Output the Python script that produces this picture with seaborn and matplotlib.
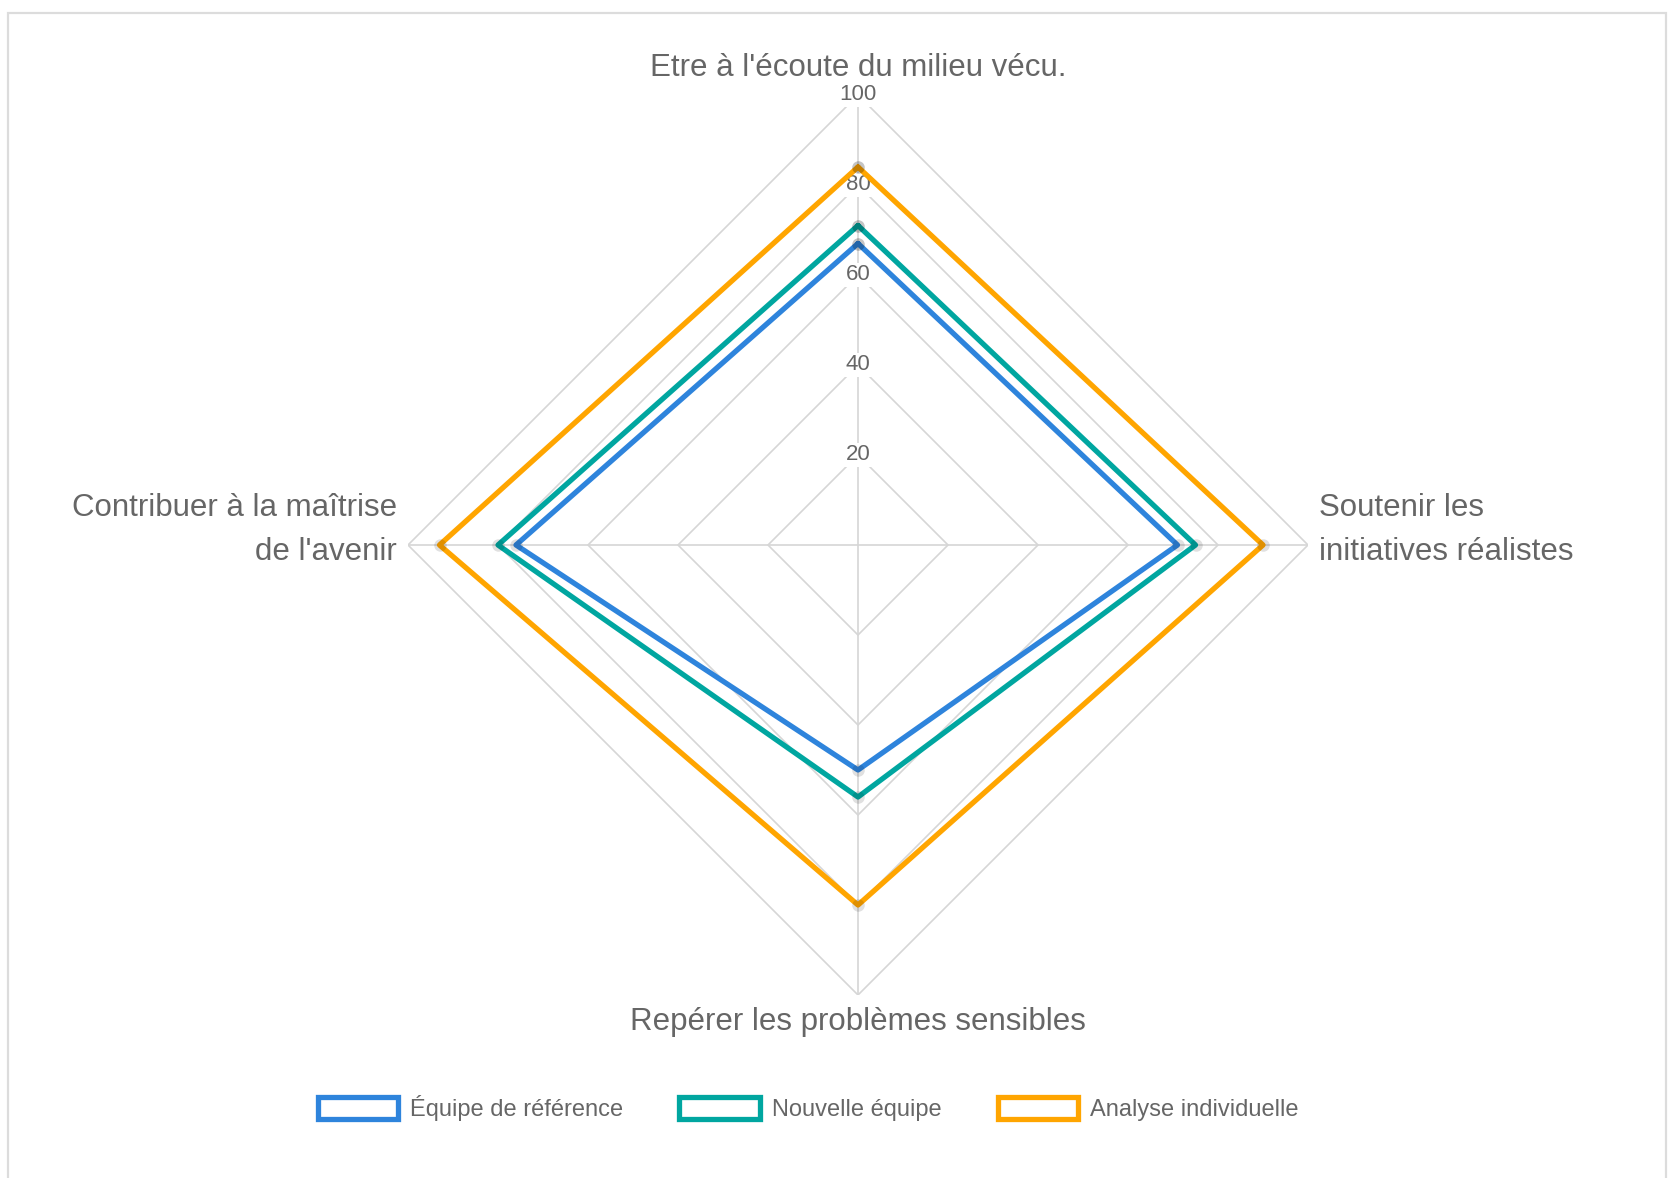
import numpy as np
import pandas as pd
import matplotlib
matplotlib.use("Agg")
import matplotlib.pyplot as plt
from matplotlib.patches import Patch, Rectangle
import seaborn as sns

# Axes of the radar, clockwise from the top
categories = [
    "Etre à l'écoute du milieu vécu.",
    "Soutenir les\ninitiatives réalistes",
    "Repérer les problèmes sensibles",
    "Contribuer à la maîtrise\nde l'avenir",
]
series_names = ["Équipe de référence", "Nouvelle équipe", "Analyse individuelle"]
equipe_reference = [67, 71, 50, 76]
nouvelle_equipe = [71, 75, 56, 80]
analyse_individuelle = [84, 90, 80, 93]
tick_values = [20, 40, 60, 80, 100]

colors = ["#2E84DC", "#00A6A0", "#FFA500"]

sns.set_theme(style="white")
plt.rcParams["font.family"] = ["Liberation Sans", "DejaVu Sans"]

W, H = 1669, 1178
fig = plt.figure(figsize=(W / 100, H / 100), dpi=100)

# outer card border
fig.patches.append(Rectangle((8 / W, -0.05), (1666 - 8) / W, 1.05 - 13 / H,
                             transform=fig.transFigure, fill=False,
                             edgecolor="#dcdcdc", linewidth=1.6))

cx, cy, R = 858, 545, 450
ax = fig.add_axes([(cx - R) / W, (H - cy - R) / H, 2 * R / W, 2 * R / H],
                  projection="polar")
ax.set_theta_zero_location("N")
ax.set_theta_direction(-1)
ax.set_ylim(0, 100)
ax.grid(False)
ax.spines["polar"].set_visible(False)
ax.set_xticks([])
ax.set_yticks([])
ax.patch.set_alpha(0)

n = len(categories)
theta = np.arange(n) * 2 * np.pi / n
theta_closed = np.append(theta, theta[0])

grid_col = "#d6d6d6"
for t in tick_values:
    ax.plot(theta_closed, [t] * (n + 1), color=grid_col, lw=1.2, zorder=1)
for th in theta:
    ax.plot([th, th], [0, 100], color=grid_col, lw=1.2, zorder=1)

for t in tick_values:
    ax.text(0, t, str(t), ha="center", va="center", fontsize=16, color="#666666",
            zorder=2, bbox=dict(facecolor="white", edgecolor="none", pad=1.0))

rows = []
for name, vals in zip(series_names, [equipe_reference, nouvelle_equipe, analyse_individuelle]):
    for i, (th, v) in enumerate(zip(theta_closed, vals + vals[:1])):
        rows.append({"serie": name, "theta": th, "valeur": v, "ordre": i})
df = pd.DataFrame(rows)

sns.lineplot(data=df, x="theta", y="valeur", hue="serie", palette=colors,
             hue_order=series_names, sort=False, estimator=None, units="serie",
             linewidth=3.8, legend=False, ax=ax, zorder=3)
for name in series_names:
    sub = df[df["serie"] == name]
    ax.plot(sub["theta"], sub["valeur"], linestyle="none", marker="o", markersize=9,
            markerfacecolor=(0, 0, 0, 0.12), markeredgecolor=(0, 0, 0, 0.0), zorder=4)

ax.set_xlabel("")
ax.set_ylabel("")
ax.set_ylim(0, 100)

label_style = dict(fontsize=22.5, color="#666666", textcoords="offset pixels",
                   annotation_clip=False, linespacing=1.6)
ax.annotate(categories[0], xy=(theta[0], 100), xytext=(0, 27), ha="center", va="center", **label_style)
ax.annotate(categories[1], xy=(theta[1], 100), xytext=(11, 15), ha="left", va="center", **label_style)
ax.annotate(categories[2], xy=(theta[2], 100), xytext=(0, -27), ha="center", va="center", **label_style)
ax.annotate(categories[3], xy=(theta[3], 100), xytext=(-11, 15), ha="right", va="center", **label_style)

handles = [Patch(facecolor="white", edgecolor=c, linewidth=3.8) for c in colors]
fig.legend(handles, series_names, loc="center", bbox_to_anchor=(808 / W, 1 - 1108 / H),
           ncol=3, frameon=False, fontsize=17, labelcolor="#666666",
           handlelength=3.4, handleheight=1.1, handletextpad=0.5, columnspacing=2.4)

fig.savefig("out.png", dpi=100, facecolor="white")
